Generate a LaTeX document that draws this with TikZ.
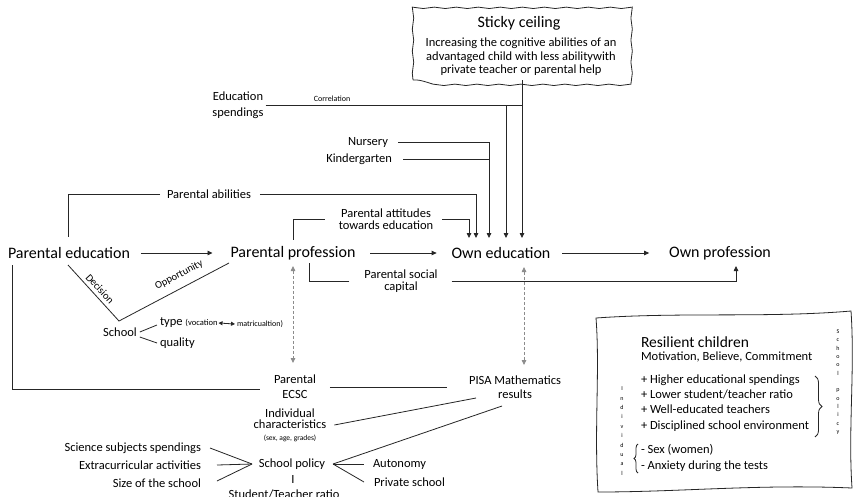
\documentclass[tikz,border=0pt]{standalone}
\usepackage{fontspec}
\setmainfont{Carlito}
\usetikzlibrary{arrows.meta,decorations.pathmorphing,decorations.pathreplacing,calc}
\begin{document}
\begin{tikzpicture}[x=1pt,y=-1pt,
  every node/.style={inner sep=0pt, outer sep=0pt},
  big/.style={font=\fontsize{16}{19}\selectfont},
  mid/.style={font=\fontsize{12.5}{15}\selectfont},
  tiny/.style={font=\fontsize{8}{9}\selectfont},
  ln/.style={draw=black!85, line width=0.8pt},
  arr/.style={ln, -{Triangle[width=4.5pt,length=5pt]}},
  dasharr/.style={draw=black!45, line width=0.8pt, dash pattern=on 3pt off 2pt,
     {Triangle[width=4.5pt,length=5pt]}-{Triangle[width=4.5pt,length=5pt]}},
  wavy/.style={ln, decorate, decoration={snake, amplitude=0.7pt, segment length=22pt}},
]
\useasboundingbox (0,0) rectangle (858,496);
\fill[white] (0,0) rectangle (858,496);

% main chain
\node[big] (pe) at (69,253) {Parental education};
\node[big] (pp) at (293,253) {Parental profession};
\node[big] (oe) at (501,253) {Own education};
\node[big] (op) at (720,253) {Own profession};
\draw[arr] ([xshift=11pt]pe.east) -- ([xshift=-18pt]pp.west);
\draw[arr] ([xshift=15pt]pp.east) -- ([xshift=-15pt]oe.west);
\draw[arr] ([xshift=12pt]oe.east) -- ([xshift=-20pt]op.west);

% arrow tips into own education
\coordinate (t1) at (469,238);
\coordinate (t2) at (476,238);
\coordinate (t3) at (489,238);
\coordinate (t4) at (506,238);
\coordinate (t5) at (522,238);

% sticky ceiling
\node[minimum width=216pt, minimum height=72pt] (sticky) at (521,44) {};
\draw[wavy] (sticky.south west) rectangle (sticky.north east);
\node[font=\fontsize{16}{19}\selectfont] (stT) at (519,23) {Sticky ceiling};
\node[font=\fontsize{12.5}{13.5}\selectfont, align=center] (stB) at (521,57) {Increasing the cognitive abilities of an\\advantaged child with less abilitywith\\private teacher or parental help};
\draw[arr] (sticky.south -| t5) -- (t5);

% education spendings
\node[font=\fontsize{12.5}{16}\selectfont, align=center] (edsp) at (238,105) {Education\\spendings};
\node[tiny] (corr) at (332,99) {Correlation};
\draw[ln] ([xshift=2pt]edsp.east) -- (edsp.east -| t5);
\draw[arr] (edsp.east -| t4) -- (t4);

% nursery / kindergarten
\node[mid, anchor=east] (nur) at (388,142) {Nursery};
\node[mid, anchor=east] (kin) at (392,159) {Kindergarten};
\draw[arr] ([xshift=10pt]nur.east) -| (t3);
\draw[ln] ([xshift=11pt]kin.east) -- (kin.east -| t3);

% parental abilities
\node[mid] (pab) at (209,194) {Parental abilities};
\coordinate (pabL) at (68,237);
\draw[ln] ([xshift=-7pt]pab.west) -| (pabL);
\draw[arr] ([xshift=9pt]pab.east) -| (t2);

% parental attitudes
\node[font=\fontsize{12.5}{12}\selectfont, align=center] (patt) at (386,219) {Parental attitudes\\towards education};
\coordinate (pattL) at (293,240);
\draw[ln] ([xshift=-14pt]patt.west) -| (pattL);
\draw[arr] ([xshift=9pt]patt.east) -| (t1);

% parental social capital
\node[font=\fontsize{12.5}{12}\selectfont, align=center] (psc) at (401,281) {Parental social\\capital};
\coordinate (pscL) at (309,263);
\coordinate (opB) at (736,266);
\draw[ln] ([xshift=-15pt]psc.west) -| (pscL);
\draw[arr] ([xshift=14pt]psc.east) -| (opB);

% decision / opportunity / school
\coordinate (dA) at (68,265);
\coordinate (sapex) at (119,321);
\coordinate (dB) at (229,263);
\draw[ln] (dA) -- (sapex) -- (dB);
\node[font=\fontsize{10.5}{11}\selectfont, rotate=-47.7] (dec) at (100,289) {Decision};
\node[font=\fontsize{10.5}{11}\selectfont, rotate=27.8] (opp) at (179,275) {Opportunity};
\node[mid] (sch) at (120,332) {School};
\node[mid, anchor=west] (typ) at (160,323) {type {\fontsize{8.5}{9}\selectfont(vocation}};
\node[tiny, anchor=west] (mat) at (237,324) {matricualtion)};
\draw[ln, {Triangle[width=4pt,length=4pt]}-{Triangle[width=4pt,length=4pt]}] ([xshift=1pt]typ.east) -- ([xshift=-2pt]mat.west);
\node[mid, anchor=west] (qua) at (160,343) {quality};
\draw[ln] ([xshift=3pt]sch.east) -- ([xshift=-3pt,yshift=-2pt]typ.west);
\draw[ln] ([xshift=3pt,yshift=-5pt]sch.east) -- ([xshift=-3pt]qua.west);

% ECSC and PISA
\node[font=\fontsize{12.5}{15}\selectfont, align=center] (ecsc) at (295,387) {Parental\\ECSC};
\node[font=\fontsize{12.5}{14.5}\selectfont, align=center] (pisa) at (515,387) {PISA Mathematics\\results};
\coordinate (d1a) at (293,266);
\coordinate (d1b) at (293,363);
\coordinate (d2a) at (524,267);
\coordinate (d2b) at (524,365);
\draw[dasharr] (d1a) -- (d1b);
\draw[dasharr] (d2a) -- (d2b);
\coordinate (Lt) at (12,265);
\coordinate (Lb) at (12,389);
\coordinate (Le) at (260,389);
\draw[ln] (Lt) -- (Lb) -- (Le);
\draw[ln] ([xshift=14pt]ecsc.east) -- ([xshift=-22pt]pisa.west);

% individual characteristics
\node[font=\fontsize{12.5}{11.5}\selectfont, align=center] (ind) at (290,425) {Individual\\characteristics\\{\fontsize{7.5}{9}\selectfont (sex, age, grades)}};
\coordinate (pI) at (476,398);
\draw[ln] ([xshift=8pt]ind.east) -- (pI);

% school policy
\node[mid] (spol) at (292,464) {School policy};
\coordinate (spR) at (333,464);
\coordinate (spL) at (252,464);
\coordinate (pS) at (502,406);
\node[mid, anchor=west] (aut) at (373,464) {Autonomy};
\node[mid, anchor=west] (pri) at (374,482) {Private school};
\draw[ln] (spR) -- (pS);
\draw[ln] (spR) -- ([xshift=-9pt]aut.west);
\draw[ln] (spR) -- ([xshift=-10pt]pri.west);
\node[mid, anchor=east] (sci) at (201,448) {Science subjects spendings};
\node[mid, anchor=east] (ext) at (201,465) {Extracurricular activities};
\node[mid, anchor=east] (siz) at (201,483) {Size of the school};
\draw[ln] ([xshift=9pt]sci.east) -- (spL);
\draw[ln] ([xshift=16pt]ext.east) -- (spL);
\draw[ln] ([xshift=16pt,yshift=2pt]siz.east) -- (spL);
\node[mid] (tick) at (293,479) {I};
\node[mid, anchor=base] (str) at (284,498) {Student/Teacher ratio};

% resilient children box
\draw[ln] (596,318) .. controls (680,312) and (770,318) .. (851,311)
  .. controls (855,370) and (848,430) .. (852,488)
  .. controls (760,484) and (680,492) .. (598,492)
  .. controls (594,430) and (600,370) .. cycle;
\node[font=\fontsize{15.5}{18}\selectfont, anchor=west] (rc) at (641,342) {Resilient children};
\node[mid, anchor=west] (mot) at (641,357) {Motivation, Believe, Commitment};
\node[font=\fontsize{12.5}{15.2}\selectfont, align=left, anchor=west] (plus) at (641,403) {+ Higher educational spendings\\+ Lower student/teacher ratio\\+ Well-educated teachers\\+ Disciplined school environment};
\node[font=\fontsize{12.5}{15.2}\selectfont, align=left, anchor=west] (minus) at (641,458) {- Sex (women)\\- Anxiety during the tests};
\coordinate (br1) at (815,376);
\coordinate (br2) at (815,437);
\coordinate (bl1) at (638,473);
\coordinate (bl2) at (638,444);
\draw[ln, decorate, decoration={brace, amplitude=7pt}] (br1) -- (br2);
\draw[ln, decorate, decoration={brace, amplitude=4pt}] (bl1) -- (bl2);
\node[font=\fontsize{6}{9.4}\selectfont, align=center] (indv) at (622,431) {I\\n\\d\\i\\v\\i\\d\\u\\a\\l};
\node[font=\fontsize{6}{8.33}\selectfont, align=center] (spv) at (838,382) {S\\c\\h\\o\\o\\l\\\mbox{}\\p\\o\\l\\i\\c\\y};
\end{tikzpicture}
\end{document}
